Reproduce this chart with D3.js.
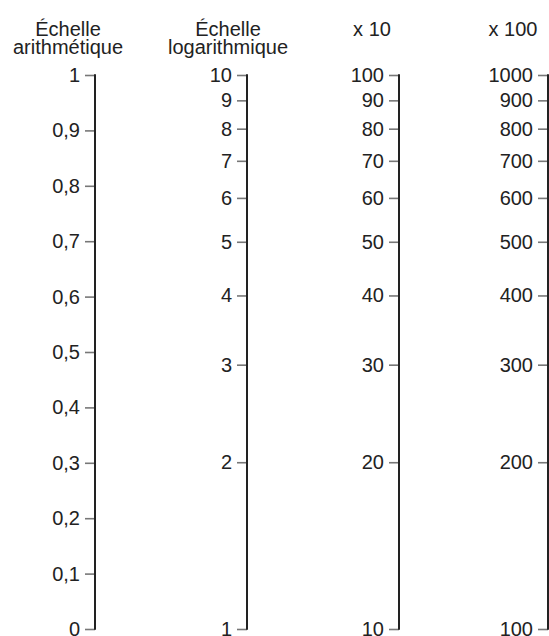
<!DOCTYPE html>
<html>
<head>
<meta charset="utf-8">
<script src="https://cdn.jsdelivr.net/npm/d3@7"></script>
<style>
  html, body { margin: 0; padding: 0; background: #fff; }
  svg { display: block; }
  text { font-family: "Liberation Sans", Arial, Helvetica, sans-serif; fill: #222; }
</style>
</head>
<body>
<svg id="chart" width="549" height="636"></svg>
<script>
// ---- data ----
const titles = [["Échelle", "arithmétique"], ["Échelle", "logarithmique"], ["x 10"], ["x 100"]];
const arithTicks = [0, 0.1, 0.2, 0.3, 0.4, 0.5, 0.6, 0.7, 0.8, 0.9, 1];
const logTicks = [1, 2, 3, 4, 5, 6, 7, 8, 9, 10];
const log10Ticks = [10, 20, 30, 40, 50, 60, 70, 80, 90, 100];
const log100Ticks = [100, 200, 300, 400, 500, 600, 700, 800, 900, 1000];

// ---- layout ----
const svg = d3.select("#chart");
const yTop = 75, yBot = 629;
const axisX = [95, 247, 399, 548];
const titleOffsets = [-27, -19, -27, -35];

const frFormat = v => String(v).replace(".", ",");

const scales = [
  { scale: d3.scaleLinear().domain([0, 1]).range([yBot, yTop]), ticks: arithTicks, fmt: frFormat },
  { scale: d3.scaleLog().domain([1, 10]).range([yBot, yTop]), ticks: logTicks, fmt: d => String(d) },
  { scale: d3.scaleLog().domain([10, 100]).range([yBot, yTop]), ticks: log10Ticks, fmt: d => String(d) },
  { scale: d3.scaleLog().domain([100, 1000]).range([yBot, yTop]), ticks: log100Ticks, fmt: d => String(d) }
];

scales.forEach((s, i) => {
  const axis = d3.axisLeft(s.scale)
    .tickValues(s.ticks)
    .tickFormat(s.fmt)
    .tickSize(10)
    .tickSizeOuter(0)
    .tickPadding(5);
  const g = svg.append("g").attr("transform", `translate(${axisX[i]},0)`).call(axis);
  g.select(".domain").remove();
  g.selectAll(".tick line").attr("stroke", "#777").attr("stroke-width", 1.6);
  g.selectAll(".tick text")
    .attr("font-size", 20)
    .attr("fill", "#222")
    .attr("font-family", "Liberation Sans, Arial, sans-serif");
  g.append("line")
    .attr("x1", 0).attr("x2", 0)
    .attr("y1", s.scale.range()[1] - 0.8).attr("y2", s.scale.range()[0] + 0.8)
    .attr("stroke", "#222").attr("stroke-width", 2);

  const t = svg.append("text")
    .attr("text-anchor", "middle")
    .attr("font-size", 20)
    .attr("x", axisX[i] + titleOffsets[i]);
  titles[i].forEach((line, j) => {
    t.append("tspan").attr("x", axisX[i] + titleOffsets[i]).attr("y", 36 + j * 18).text(line);
  });
});
</script>
</body>
</html>
